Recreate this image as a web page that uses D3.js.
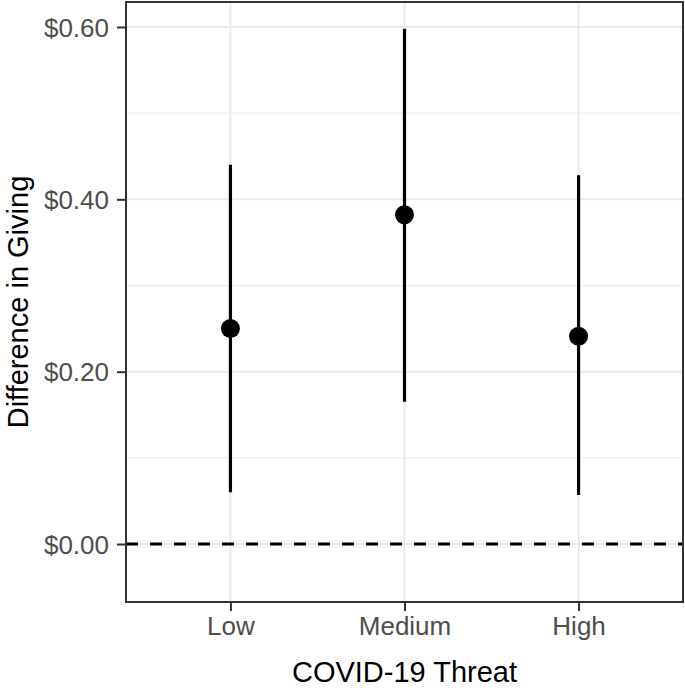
<!DOCTYPE html>
<html>
<head>
<meta charset="utf-8">
<script src="https://cdn.jsdelivr.net/npm/d3@7"></script>
<style>
body { margin:0; background:#fff; }
svg { display:block; font-family: "Liberation Sans", Arial, Helvetica, sans-serif; }
</style>
</head>
<body>
<svg id="chart" width="685" height="693"></svg>
<script>
const categories = ["Low", "Medium", "High"];
const estimates = [0.250, 0.382, 0.241];
const lower = [0.060, 0.165, 0.057];
const upper = [0.440, 0.598, 0.428];
const yTicks = [0, 0.2, 0.4, 0.6];
const yMinor = [0.1, 0.3, 0.5];

const svg = d3.select("#chart");
const L = 126, R = 683, T = 2, B = 602;

const x = d3.scalePoint().domain(categories).range([L, R]).padding(0.6);
const y = d3.scaleLinear().domain([-0.0673, 0.629]).range([B, T]);

const grid = "#ebebeb";
svg.append("g").selectAll("line").data(yMinor).join("line")
  .attr("x1", L).attr("x2", R).attr("y1", d => y(d)).attr("y2", d => y(d))
  .attr("stroke", grid).attr("stroke-width", 1);
svg.append("g").selectAll("line").data(yTicks).join("line")
  .attr("x1", L).attr("x2", R).attr("y1", d => y(d)).attr("y2", d => y(d))
  .attr("stroke", grid).attr("stroke-width", 2);
svg.append("g").selectAll("line").data(categories).join("line")
  .attr("x1", d => x(d)).attr("x2", d => x(d)).attr("y1", T).attr("y2", B)
  .attr("stroke", grid).attr("stroke-width", 2);

svg.append("line")
  .attr("x1", L).attr("x2", R).attr("y1", y(0)).attr("y2", y(0))
  .attr("stroke", "#000").attr("stroke-width", 3)
  .attr("stroke-dasharray", "12,12");

svg.append("g").selectAll("line").data(categories).join("line")
  .attr("x1", d => x(d)).attr("x2", d => x(d))
  .attr("y1", (d, i) => y(lower[i])).attr("y2", (d, i) => y(upper[i]))
  .attr("stroke", "#000").attr("stroke-width", 3.2);

svg.append("g").selectAll("circle").data(categories).join("circle")
  .attr("cx", d => x(d)).attr("cy", (d, i) => y(estimates[i]))
  .attr("r", 9.5).attr("fill", "#000");

svg.append("rect").attr("x", L).attr("y", T).attr("width", R - L).attr("height", B - T)
  .attr("fill", "none").attr("stroke", "#333333").attr("stroke-width", 2);

const yAxis = d3.axisLeft(y).tickValues(yTicks).tickSize(8).tickPadding(8)
  .tickFormat(d => "$" + d3.format(".2f")(d));
const gy = svg.append("g").attr("transform", `translate(${L - 1},0)`).call(yAxis);
gy.select(".domain").remove();
gy.selectAll(".tick line").attr("stroke", "#333333").attr("stroke-width", 2);
gy.selectAll(".tick text").attr("fill", "#4d4d4d").attr("font-size", 26).attr("dy", "0.35em");

const xAxis = d3.axisBottom(x).tickSize(8).tickPadding(4);
const gx = svg.append("g").attr("transform", `translate(0,${B + 1})`).call(xAxis);
gx.select(".domain").remove();
gx.selectAll(".tick line").attr("stroke", "#333333").attr("stroke-width", 2);
gx.selectAll(".tick text").attr("fill", "#4d4d4d").attr("font-size", 26)
  .attr("dy", null).attr("y", 32);

svg.append("text").attr("x", (L + R) / 2).attr("y", 682)
  .attr("text-anchor", "middle").attr("font-size", 29).attr("fill", "#000")
  .text("COVID-19 Threat");
svg.append("text").attr("transform", `translate(28,${(T + B) / 2}) rotate(-90)`)
  .attr("text-anchor", "middle").attr("font-size", 29).attr("fill", "#000")
  .text("Difference in Giving");
</script>
</body>
</html>
